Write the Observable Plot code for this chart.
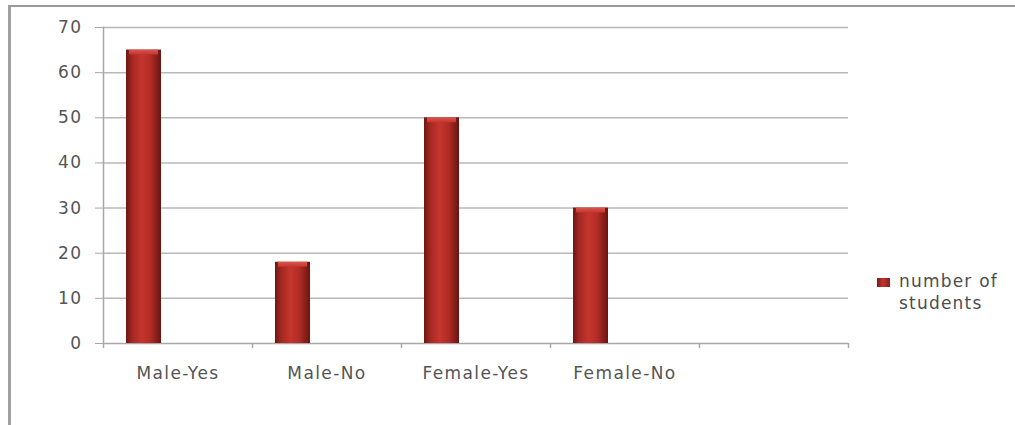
<!DOCTYPE html>
<html>
<head>
<meta charset="utf-8">
<script src="https://cdn.jsdelivr.net/npm/d3@7"></script>
<script src="https://cdn.jsdelivr.net/npm/@observablehq/plot@0.6"></script>
<style>
  html, body { margin: 0; padding: 0; background: #fff; }
  #wrap { position: relative; width: 1015px; height: 425px; overflow: hidden; background: #fff; }
  #frame { position: absolute; left: 8px; top: 5px; width: 1015px; height: 430px;
           border-top: 2px solid #9a9a9a; border-left: 3px solid #a0a0a0; box-sizing: border-box; }
  #chart { position: absolute; left: 0; top: 0; }
  #legend { position: absolute; left: 877px; top: 270px; font-family: "DejaVu Sans", sans-serif;
            font-size: 17px; letter-spacing: 1.2px; color: #4d4d4d; line-height: 22px; }
  #legend .sw { position: absolute; left: 0; top: 8px; width: 13px; height: 9px;
                background: linear-gradient(90deg, #7a1a16, #c3342d 45%, #8a1f1a); }
  #legend .tx { position: absolute; left: 22px; top: 0; white-space: nowrap; }
</style>
</head>
<body>
<div id="wrap">
  <div id="frame"></div>
  <div id="chart"></div>
  <div id="legend"><div class="sw"></div><div class="tx">number of<br>students</div></div>
</div>
<script>
const categories = ["Male-Yes", "Male-No", "Female-Yes", "Female-No"];
const values = [65, 18, 50, 30];
const xDomain = [...categories, ""];
const yTicks = [0, 10, 20, 30, 40, 50, 60, 70];
const seriesName = "number of students";

const data = categories.map((c, i) => ({category: c, value: values[i]}));

const W = 1015, H = 425;
const mL = 103, mR = 167, mT = 27, mB = 82;
const bw = (W - mL - mR) / xDomain.length;

const chart = Plot.plot({
  width: W,
  height: H,
  marginLeft: mL,
  marginRight: mR,
  marginTop: mT,
  marginBottom: mB,
  style: {fontFamily: "DejaVu Sans, sans-serif", fontSize: "17px", color: "#555", background: "transparent", letterSpacing: "1.4px"},
  x: {domain: xDomain, padding: 0, axis: null, label: null},
  y: {domain: [0, 70], axis: null, label: null},
  marks: [
    () => {
      const ns = "http://www.w3.org/2000/svg";
      const defs = document.createElementNS(ns, "defs");
      defs.innerHTML = `
        <linearGradient id="barGrad" x1="0" x2="1" y1="0" y2="0">
          <stop offset="0%" stop-color="#6e1612"/>
          <stop offset="18%" stop-color="#a52822"/>
          <stop offset="45%" stop-color="#c5352e"/>
          <stop offset="70%" stop-color="#b02c25"/>
          <stop offset="100%" stop-color="#6a1411"/>
        </linearGradient>
        <linearGradient id="capGrad" x1="0" x2="0" y1="0" y2="1">
          <stop offset="0%" stop-color="#d9574f"/>
          <stop offset="100%" stop-color="#c3352e"/>
        </linearGradient>`;
      return defs;
    },
    Plot.gridY(yTicks.filter(d => d > 0), {stroke: "#b8b8b8", strokeOpacity: 1, strokeWidth: 1.5}),
    Plot.axisY({ticks: yTicks, tickSize: 8, tickPadding: 13, stroke: "#a8a8a8", fill: "#555", label: null}),
    Plot.axisX({tickSize: 0, tickPadding: 23, fill: "#555", label: null}),
    Plot.ruleX(xDomain, {x: d => d, dx: -bw / 2, insetTop: H - mT - mB, insetBottom: -5, stroke: "#a8a8a8", strokeWidth: 1.5}),
    Plot.ruleX([xDomain[xDomain.length - 1]], {x: d => d, dx: bw / 2, insetTop: H - mT - mB, insetBottom: -5, stroke: "#a8a8a8", strokeWidth: 1.5}),
    Plot.frame({anchor: "left", stroke: "#a8a8a8", strokeWidth: 1.5}),
    Plot.ruleY([0], {stroke: "#a8a8a8", strokeWidth: 1.5}),
    Plot.barY(data, {x: "category", y: "value", fill: "url(#barGrad)", insetLeft: 23, insetRight: bw - 23 - 35, title: d => `${seriesName}: ${d.value}`}),
    Plot.barY(data, {x: "category", y1: "value", y2: "value", insetBottom: -5, fill: "url(#capGrad)", insetLeft: 26, insetRight: bw - 26 - 29})
  ]
});
document.getElementById("chart").append(chart);
</script>
</body>
</html>
